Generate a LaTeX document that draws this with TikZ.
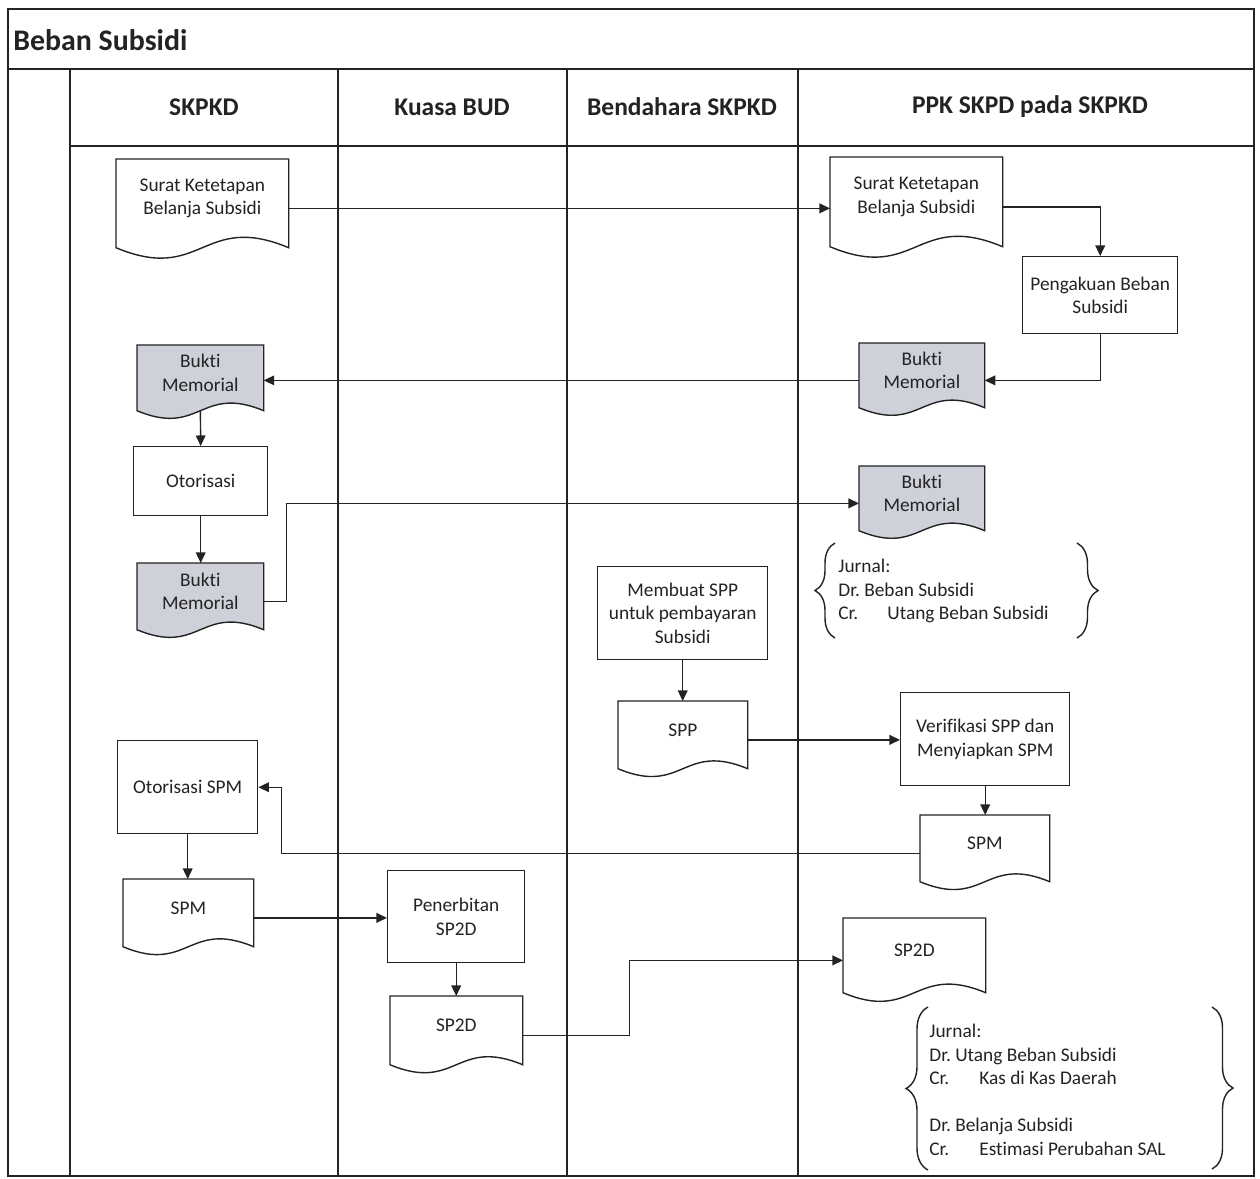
\documentclass[tikz,border=0pt]{standalone}
\usepackage{fontspec}
\setmainfont{Carlito}[Ligatures=NoCommon]
\usetikzlibrary{arrows.meta,calc,backgrounds,decorations.pathreplacing}

% one drawing unit
\newdimen\pxu \pxu=0.02cm

\definecolor{ink}{RGB}{35,35,35}
\definecolor{memo}{RGB}{207,209,218}

\tikzset{
  frame/.style={draw=ink, line width=1.1pt},
  lane/.style={draw=ink, line width=0.8pt},
  title/.style={font=\fontsize{17}{20}\selectfont\bfseries, text=ink, anchor=west, inner sep=0},
  lanehead/.style={font=\fontsize{14.5}{17}\selectfont\bfseries, text=ink, inner sep=0},
  body/.style={font=\fontsize{11}{13.4}\selectfont, text=ink},
  proc/.style={body, draw=ink, line width=0.8pt, fill=white, align=center, anchor=north west, inner sep=1pt},
  docframe/.style={anchor=north west, inner sep=0},
  doctext/.style={body, align=center, inner sep=0},
  docline/.style={draw=ink, line width=0.8pt},
  flow/.style={draw=ink, line width=0.8pt, -{Triangle[length=6pt,width=5.5pt]}},
  curly/.style={draw=ink, line width=0.8pt, decorate},
  jurnal/.style={body, align=left, anchor=west, inner sep=0},
}

% document symbol: name, left, top, width, side height, fill, text
\newcommand{\docnode}[7]{%
  \node[docframe, minimum width=#4*\pxu, minimum height={(#5+10)*\pxu}] (#1) at (#2,#3) {};
  \node[doctext] (#1-t) at ($(#1.center)+(0,-10)$) {#7};
  \begin{pgfonlayer}{background}
    \draw[docline, fill=#6] (#1.north west) -- (#1.north east) -- ($(#1.south east)+(0,-10)$)
      .. controls ($(#1.south)+(0,{-10-0.21*#4})$) and ($(#1.south)+(0,{-10+0.21*#4})$) ..
      ($(#1.south west)+(0,-10)$) -- cycle;
  \end{pgfonlayer}
}

\begin{document}
\frenchspacing
\begin{tikzpicture}[x=0.02cm, y=-0.02cm]
\useasboundingbox (0,0) rectangle (1260,1178);
\begin{pgfonlayer}{background}
  \fill[white] (0,0) rectangle (1260,1178);
\end{pgfonlayer}

% swimlane frame
\draw[frame] (8,9) rectangle (1254,1176);
\draw[lane] (8,69) -- (1254,69);
\draw[lane] (70,146) -- (1254,146);
\foreach \lx in {70,338,567,798} \draw[lane] (\lx,69) -- (\lx,1176);

\node[title] (ttl) at (13,40) {Beban Subsidi};
\node[lanehead] (h1) at (204,107) {SKPKD};
\node[lanehead] (h2) at (452,107) {Kuasa BUD};
\node[lanehead] (h3) at (682,107) {Bendahara SKPKD};
\node[lanehead] (h4) at (1030,107) {PPK SKPD pada SKPKD};

% steps
\docnode{d1}{116}{159}{172}{88}{white}{Surat Ketetapan\\Belanja Subsidi}
\docnode{d2}{830}{157}{172}{89}{white}{Surat Ketetapan\\Belanja Subsidi}
\node[proc, minimum width=155*\pxu, minimum height=77*\pxu] (pk) at (1022,256) {Pengakuan Beban\\Subsidi};
\docnode{bm1}{859}{343}{125}{64}{memo}{Bukti\\Memorial}
\docnode{bs1}{137}{345}{126}{65}{memo}{Bukti\\Memorial}
\node[proc, minimum width=134*\pxu, minimum height=69*\pxu] (oto) at (133,446) {Otorisasi};
\docnode{bs2}{137}{563}{126}{66}{memo}{Bukti\\Memorial}
\docnode{bm2}{859}{466}{125}{64}{memo}{Bukti\\Memorial}
\node[proc, minimum width=170*\pxu, minimum height=93*\pxu] (mk) at (597,566) {Membuat SPP\\untuk pembayaran\\Subsidi};
\docnode{spp}{618}{701}{129}{67}{white}{SPP}
\node[proc, minimum width=169*\pxu, minimum height=93*\pxu] (vf) at (900,692) {Verifikasi SPP dan\\Menyiapkan SPM};
\docnode{spm2}{920}{815}{129}{66}{white}{SPM}
\node[proc, minimum width=140*\pxu, minimum height=93*\pxu] (os) at (117,740) {Otorisasi SPM};
\docnode{spm1}{123}{879}{130}{67}{white}{SPM}
\node[proc, minimum width=137*\pxu, minimum height=92*\pxu] (pn) at (387,870) {Penerbitan\\SP2D};
\docnode{sp1}{390}{996}{132}{68}{white}{SP2D}
\docnode{sp2}{843}{918}{142}{74}{white}{SP2D}

% flows
\draw[flow] (d1.east) -- (d1.east -| d2.west);
\draw[flow] (d2.east) -| (pk.north);
\draw[flow] (pk.south) |- (bm1.east);
\draw[flow] (bm1.west) -- (bm1.west -| bs1.east);
\draw[flow] ($(bs1.south)+(0,-10)$) -- (oto.north);
\draw[flow] (oto.south) -- (oto.south |- bs2.north);
\draw[flow] (bs2.east) -- ++(23,0) |- (bm2.west);
\draw[flow] (mk.south) -- (mk.south |- spp.north);
\draw[flow] (spp.east) -- (spp.east -| vf.west);
\draw[flow] (vf.south) -- (vf.south |- spm2.north);
\draw[flow] (spm2.west) -| ($(os.east)+(23,0)$) -- (os.east);
\draw[flow] (os.south) -- (os.south |- spm1.north);
\draw[flow] (spm1.east) -- (spm1.east -| pn.west);
\draw[flow] (pn.south) -- (pn.south |- sp1.north);
\draw[flow] (sp1.east) -- ++(107,0) |- (sp2.west);

% journal entries
\node[jurnal] (j1) at (838,591) {Jurnal:\\Dr. Beban Subsidi\\\makebox[49\pxu][l]{Cr.}Utang Beban Subsidi};
\draw[curly, decoration={brace, amplitude=0.4cm}] (835,638) -- (835,543);
\draw[curly, decoration={brace, amplitude=0.42cm}] (1077,543) -- (1077,638);

\node[jurnal] (j2) at (929,1090) {Jurnal:\\Dr. Utang Beban Subsidi\\\makebox[50\pxu][l]{Cr.}Kas di Kas Daerah\\[13.4pt]Dr. Belanja Subsidi\\\makebox[50\pxu][l]{Cr.}Estimasi Perubahan SAL};
\draw[curly, decoration={brace, amplitude=0.44cm}] (928,1170) -- (928,1007);
\draw[curly, decoration={brace, amplitude=0.42cm}] (1212,1007) -- (1212,1169);
\end{tikzpicture}
\end{document}
